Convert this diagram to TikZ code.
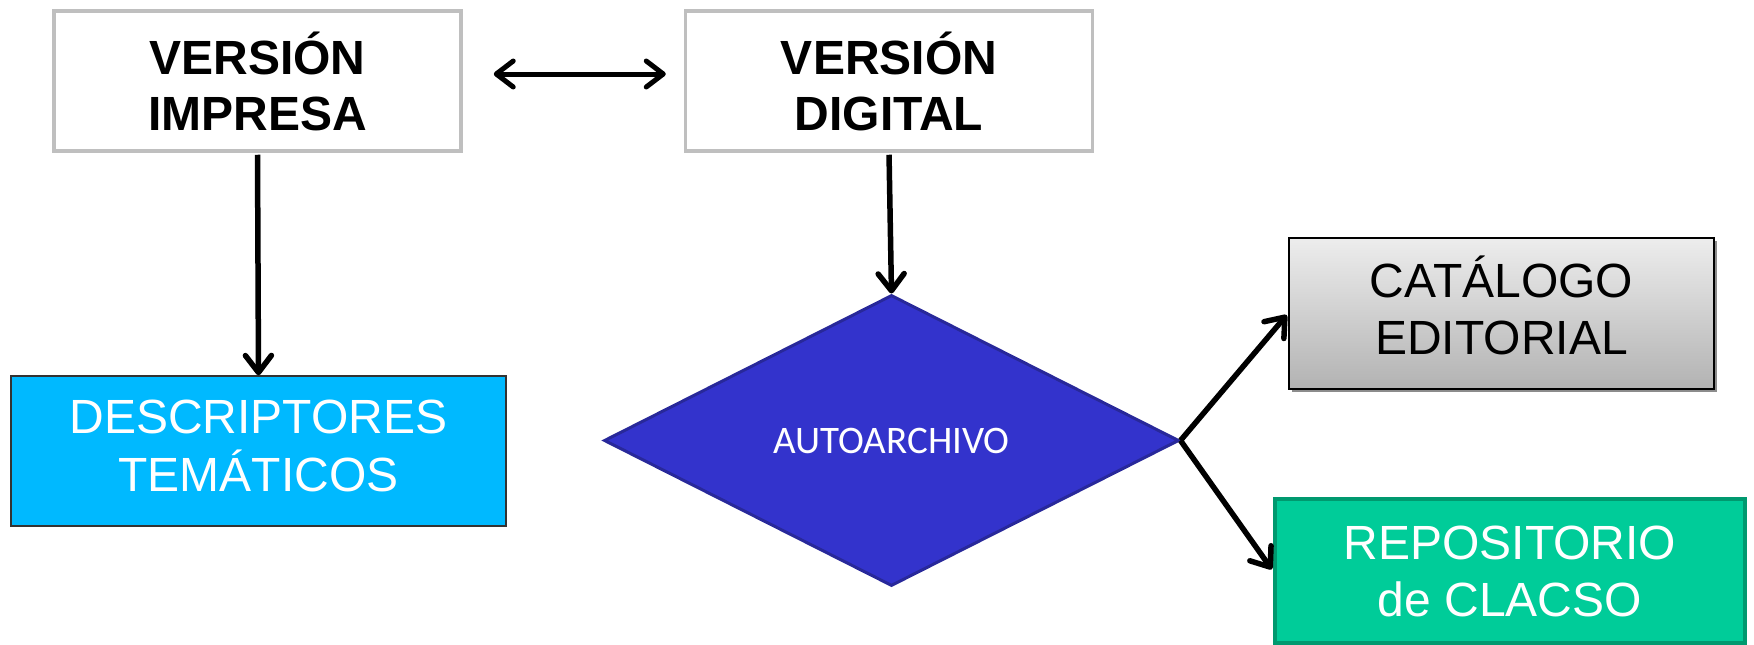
\documentclass[tikz,border=0pt]{standalone}
\usepackage{fontspec}
\setmainfont{Liberation Sans}
\newfontfamily\calfont{Carlito}
\usetikzlibrary{arrows.meta,shapes.geometric,shadows}
\definecolor{boxgray}{HTML}{BFBFBF}
\definecolor{descblue}{HTML}{00B9FF}
\definecolor{diamfill}{HTML}{3333CC}
\definecolor{diamedge}{HTML}{28289A}
\definecolor{repofill}{HTML}{00CC99}
\definecolor{repoedge}{HTML}{00996F}
\tikzset{
  topbox/.style={draw=boxgray, line width=3.5pt, fill=white, minimum width=407pt, minimum height=140pt, inner sep=0pt, align=center, font=\fontsize{48}{56}\selectfont\bfseries},
  regbox/.style={minimum width=#1, inner sep=0pt, align=center, font=\fontsize{48}{57}\selectfont},
  barb/.style={arrows={-{Straight Barb[length=17pt,width=26pt,line cap=round,line join=round]}}},
  conn/.style={line width=5.5pt, -{Straight Barb[length=17pt,width=26pt,line cap=round,line join=round]}},
  dconn/.style={line width=5pt, {Straight Barb[length=17pt,width=26pt,line cap=round,line join=round]}-{Straight Barb[length=17pt,width=26pt,line cap=round,line join=round]}}
}
\begin{document}
\begin{tikzpicture}[x=1pt,y=-1pt]
\useasboundingbox (0,0) rectangle (1754,645);
\node[topbox] (imp) at (257.5,81) {VERSIÓN\\IMPRESA};
\node[topbox] (dig) at (889,81) {VERSIÓN\\DIGITAL};
\node[regbox=495pt, minimum height=150pt, fill=descblue, draw=black!80, line width=1.5pt, text=white] (desc) at (258.5,451) {\raisebox{6pt}{\begin{tabular}{@{}c@{}}DESCRIPTORES\\TEMÁTICOS\end{tabular}}};
\node[diamond, minimum width=575pt, minimum height=291pt, inner sep=0pt, fill=diamfill, draw=diamedge, line width=3pt, text=white, font=\calfont\fontsize{39}{44}\selectfont] (auto) at (891.5,440.5) {AUTOARCHIVO};
\node[regbox=425pt, minimum height=151pt, top color=black!7, bottom color=black!30, draw=black, line width=2pt, drop shadow={shadow xshift=3pt, shadow yshift=-3pt, fill=black!45, opacity=1}] (cat) at (1501.5,313.5) {\raisebox{6pt}{\begin{tabular}{@{}c@{}}CATÁLOGO\\EDITORIAL\end{tabular}}};
\node[regbox=470pt, minimum height=144pt, fill=repofill, draw=repoedge, line width=4pt, text=white] (repo) at (1510,571) {REPOSITORIO\\de CLACSO};
\draw[dconn, shorten <=31pt, shorten >=18pt] (imp.east |- 0,74) -- (dig.west |- 0,74);
\draw[conn, shorten <=2pt] (imp.south) -- (desc.north);
\draw[conn, shorten <=2pt] (dig.south) -- (auto.north);
\draw[conn, shorten >=2pt] (auto.east) -- (cat.west);
\draw[conn, shorten >=2pt] (auto.east) -- (repo.west);
\end{tikzpicture}
\end{document}
